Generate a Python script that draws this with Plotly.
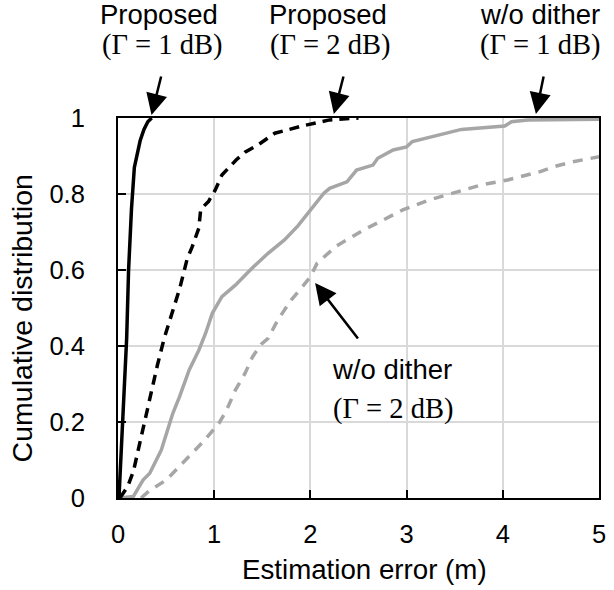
import plotly.graph_objects as go

# ---- data ----
prop1_x = [0.01, 0.04, 0.07, 0.09, 0.11, 0.14, 0.17, 0.20, 0.23, 0.27, 0.31, 0.35]
prop1_y = [0.0, 0.15, 0.30, 0.42, 0.60, 0.76, 0.87, 0.91, 0.94, 0.97, 0.99, 1.0]

prop2_x = [0.02, 0.10, 0.16, 0.23, 0.28, 0.36, 0.41, 0.48, 0.55, 0.64, 0.72, 0.77, 0.84, 0.86,
           0.94, 1.01, 1.08, 1.23, 1.32, 1.46, 1.63, 1.93, 2.20, 2.50]
prop2_y = [0.0, 0.03, 0.07, 0.15, 0.21, 0.30, 0.35, 0.42, 0.48, 0.55, 0.63, 0.66, 0.71, 0.76,
           0.78, 0.81, 0.85, 0.89, 0.91, 0.93, 0.96, 0.98, 0.995, 1.0]

wod1_x = [0.02, 0.16, 0.26, 0.33, 0.45, 0.57, 0.64, 0.74, 0.84, 0.91, 0.98, 1.08, 1.22, 1.39,
          1.56, 1.73, 1.87, 2.00, 2.14, 2.20, 2.38, 2.48, 2.65, 2.70, 2.86, 3.00, 3.06, 3.33,
          3.57, 4.02, 4.09, 4.26, 5.00]
wod1_y = [0.0, 0.004, 0.047, 0.065, 0.126, 0.223, 0.267, 0.337, 0.389, 0.433, 0.486, 0.53,
          0.56, 0.604, 0.644, 0.679, 0.716, 0.758, 0.802, 0.815, 0.832, 0.863, 0.876, 0.894,
          0.916, 0.924, 0.938, 0.955, 0.97, 0.979, 0.99, 0.995, 0.997]

wod2_x = [0.24, 0.33, 0.50, 0.67, 0.87, 0.99, 1.05, 1.13, 1.22, 1.32, 1.40, 1.49, 1.56, 1.66,
          1.80, 1.93, 2.00, 2.07, 2.27, 2.55, 2.75, 2.96, 3.23, 3.47, 3.78, 4.05, 4.39, 4.53,
          4.73, 5.00]
wod2_y = [0.0, 0.02, 0.047, 0.091, 0.144, 0.179, 0.197, 0.232, 0.284, 0.328, 0.372, 0.405,
          0.42, 0.468, 0.521, 0.56, 0.582, 0.618, 0.663, 0.705, 0.732, 0.758, 0.784, 0.802,
          0.824, 0.837, 0.859, 0.872, 0.885, 0.898]

x_ticks = [0, 1, 2, 3, 4, 5]
y_ticks = [0, 0.2, 0.4, 0.6, 0.8, 1]
y_tick_labels = ["0", "0.2", "0.4", "0.6", "0.8", "1"]

x_title = "Estimation error (m)"
y_title = "Cumulative distribution"

# ---- layout geometry ----
W, H = 614, 590
L, R, T, B = 118, 8, 118, 92
PW, PH = W - L - R, H - T - B


def xp(px):
    return (px - L) / PW


def yp(py):
    return (T + PH - py) / PH


BLACK = "#000000"
GRAY = "#a6a6a6"
SANS = "Liberation Sans, Arial, sans-serif"
SERIF = "Liberation Serif, Times New Roman, serif"

fig = go.Figure()
fig.add_trace(go.Scatter(x=wod2_x, y=wod2_y, mode="lines",
                         line=dict(color=GRAY, width=3.5, dash="10px,8px")))
fig.add_trace(go.Scatter(x=wod1_x, y=wod1_y, mode="lines",
                         line=dict(color=GRAY, width=3.5)))
fig.add_trace(go.Scatter(x=prop2_x, y=prop2_y, mode="lines",
                         line=dict(color=BLACK, width=3.5, dash="10px,7px")))
fig.add_trace(go.Scatter(x=prop1_x, y=prop1_y, mode="lines",
                         line=dict(color=BLACK, width=3.5)))

ann = []
labels = [
    ("Proposed", SANS, 27.5, 160, 15), ("(Γ = 1 dB)", SERIF, 28.5, 163, 45),
    ("Proposed", SANS, 27.5, 331, 15), ("(Γ = 2 dB)", SERIF, 28.5, 333, 45),
    ("w/o dither", SANS, 27.5, 546, 15), ("(Γ = 1 dB)", SERIF, 28.5, 546, 45),
    ("w/o dither", SANS, 27.5, 396, 369), ("(Γ = 2 dB)", SERIF, 28.5, 397, 409),
]
for txt, fam, fs, px, py in labels:
    ann.append(dict(x=xp(px), y=yp(py), xref="paper", yref="paper", text=txt,
                    showarrow=False, font=dict(family=fam, size=fs, color=BLACK),
                    xanchor="center", yanchor="middle"))

# axis titles
ann.append(dict(x=xp(368), y=yp(569), xref="paper", yref="paper", text=x_title,
                showarrow=False, font=dict(family=SANS, size=27.7, color=BLACK),
                xanchor="center", yanchor="middle"))
ann.append(dict(x=xp(21), y=yp(318), xref="paper", yref="paper", text=y_title,
                showarrow=False, textangle=-90,
                font=dict(family=SANS, size=28.5, color=BLACK),
                xanchor="center", yanchor="middle"))

arrows = [(152, 115, 10, -40), (337, 114, 10, -39), (542, 114, 8, -39), (318, 283, 44, 57)]
for px, py, axp, ayp in arrows:
    ann.append(dict(x=xp(px), y=yp(py), xref="paper", yref="paper", text="",
                    showarrow=True, ax=axp, ay=ayp, arrowhead=2, arrowsize=1.7,
                    arrowwidth=2.5, arrowcolor=BLACK, standoff=0))

fig.update_layout(
    width=W, height=H,
    margin=dict(l=L, r=R, t=T, b=B),
    paper_bgcolor="white", plot_bgcolor="white",
    showlegend=False,
    font=dict(family=SANS, size=25, color=BLACK),
    annotations=ann,
)
fig.update_xaxes(
    range=[0, 5], tickvals=x_ticks, ticktext=[str(v) for v in x_ticks],
    showgrid=True, gridcolor="#d9d9d9", gridwidth=1.5,
    showline=True, linecolor=BLACK, linewidth=2, mirror=True,
    ticks="inside", ticklen=8, tickwidth=2, tickcolor=BLACK,
    ticklabelstandoff=12, zeroline=False,
    tickfont=dict(size=25.5),
)
fig.update_yaxes(
    range=[0, 1], tickvals=y_ticks, ticktext=y_tick_labels,
    showgrid=True, gridcolor="#d9d9d9", gridwidth=1.5,
    showline=True, linecolor=BLACK, linewidth=2, mirror=True,
    ticks="inside", ticklen=8, tickwidth=2, tickcolor=BLACK,
    ticklabelstandoff=26, zeroline=False,
    tickfont=dict(size=25.5),
)

fig.write_html("out.html")
